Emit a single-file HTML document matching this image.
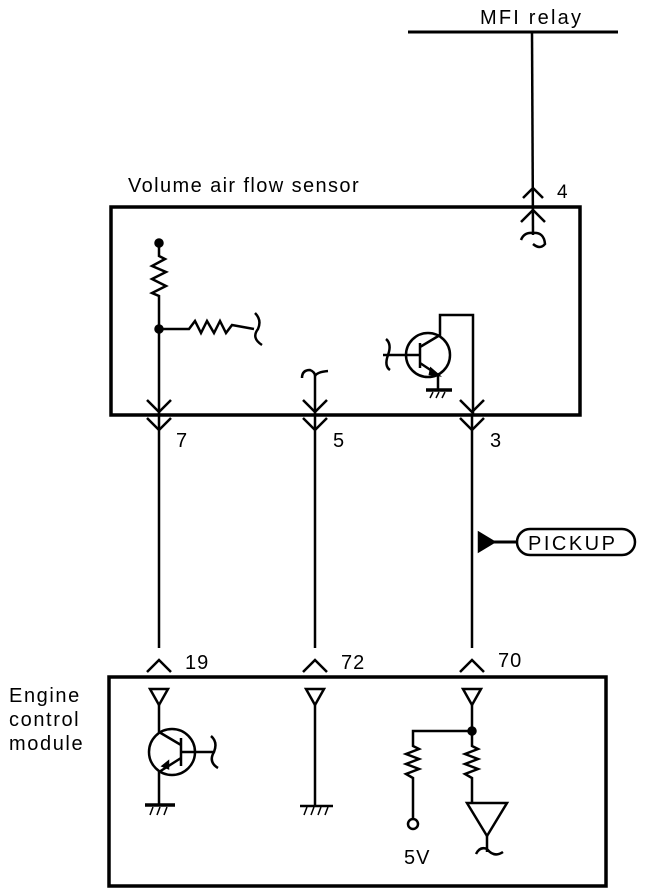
<!DOCTYPE html>
<html><head><style>body{margin:0;background:#fff}svg{display:block}text{font-family:"Liberation Sans",Arial,sans-serif;fill:#000}</style></head><body>
<svg width="656" height="894" viewBox="0 0 656 894" xmlns="http://www.w3.org/2000/svg" fill="none" stroke="#000" stroke-width="2.5">
<!-- MFI relay -->
<text x="480" y="24" font-size="20" letter-spacing="2.2" stroke="none">MFI relay</text>
<line x1="408" y1="32" x2="618" y2="32" stroke-width="3"/>
<line x1="532" y1="32" x2="533" y2="235"/>
<path d="M523 198 L533 188 L543 198 M521 222 L533 210 L545 222"/>
<path d="M521 240 Q524 232 533 233 Q544 232 545 244 Q540 250 533 244"/>
<text x="557" y="198" font-size="19" stroke="none">4</text>
<!-- VAF box -->
<text x="128" y="192" font-size="20" letter-spacing="1.4" stroke="none">Volume air flow sensor</text>
<rect x="111" y="207" width="469" height="208" stroke-width="3.5"/>
<circle cx="159" cy="243" r="3.5" fill="#000"/>
<path d="M159 243 L159 256 L165 259 L152 266 L166 272 L152 279 L166 286 L152 293 L159 296 L159 415"/>
<circle cx="159" cy="329" r="3.5" fill="#000"/>
<path d="M159 329 L189 329 L195 321 L201 333 L207 321 L214 333 L220 321 L226 333 L232 325 L254 329"/>
<path d="M255 313 Q262 320 258 329 Q251 338 262 345"/>
<path d="M147 400 L159 412 L171 400 M147 418 L159 430 L171 418"/>
<line x1="159" y1="415" x2="159" y2="648"/>
<text x="176" y="447" font-size="20" stroke="none">7</text>
<path d="M302 378 Q302 370 310 370 Q315 372 315 376 Q317 372 328 371"/>
<line x1="315" y1="376" x2="315" y2="648"/>
<path d="M303 400 L315 412 L327 400 M303 418 L315 430 L327 418"/>
<text x="333" y="447" font-size="20" stroke="none">5</text>
<!-- transistor in VAF -->
<circle cx="428" cy="355" r="22"/>
<path d="M383 355 L420 355 M420 343 L420 368 M420 347 L440 335 L440 315 L473 315 L473 415 M420 363 L438 375 L438 390"/>
<path d="M431 369 L438 375 L430 374 Z" fill="#000"/>
<path d="M386 339 Q392 344 388 355 Q384 366 390 370"/>
<line x1="426" y1="390" x2="452" y2="390" stroke-width="3.5"/>
<path d="M430 398 L433 392 M436 398 L439 392 M442 398 L445 392" stroke-width="1.5"/>
<path d="M460 400 L472 412 L484 400 M460 418 L472 430 L484 418"/>
<line x1="472" y1="415" x2="472" y2="648"/>
<text x="490" y="447" font-size="20" stroke="none">3</text>
<!-- pickup -->
<path d="M479 533 L494 542 L479 551 Z" fill="#000"/>
<line x1="480" y1="542" x2="517" y2="542" stroke-width="3"/>
<rect x="517" y="529" width="118" height="26" rx="13"/>
<text x="528" y="550" font-size="20" letter-spacing="2.5" stroke="none">PICKUP</text>
<!-- ECM pins -->
<path d="M147 672 L159 660 L171 672 M303 672 L315 660 L327 672 M460 672 L472 660 L484 672"/>
<text x="185" y="669" font-size="20" letter-spacing="1" stroke="none">19</text>
<text x="341" y="669" font-size="20" letter-spacing="1" stroke="none">72</text>
<text x="498" y="667" font-size="20" letter-spacing="1" stroke="none">70</text>
<text x="9" y="702" font-size="20" letter-spacing="1.6" stroke="none">Engine</text>
<text x="9" y="726" font-size="20" letter-spacing="1.6" stroke="none">control</text>
<text x="9" y="750" font-size="20" letter-spacing="1.6" stroke="none">module</text>
<rect x="109" y="677" width="497" height="209" stroke-width="3.5"/>
<path d="M150 689 L168 689 L159 705 Z M306 689 L324 689 L315 705 Z M463 689 L481 689 L472 705 Z"/>
<!-- transistor ECM -->
<circle cx="172" cy="752" r="23"/>
<path d="M159 705 L159 732 L181 745 M181 738 L181 766 M181 752 L213 752 M181 758 L159 772 L159 805"/>
<path d="M163 766 L168 768 L168 762 Z" fill="#000"/>
<path d="M211 736 Q218 742 214 752 Q208 762 218 768"/>
<line x1="145" y1="805" x2="175" y2="805" stroke-width="3.5"/>
<path d="M150 815 L153 807 M157 815 L160 807 M164 815 L167 807" stroke-width="1.5"/>
<line x1="315" y1="705" x2="315" y2="805"/>
<line x1="300" y1="806" x2="333" y2="806"/>
<path d="M304 815 L307 807 M311 815 L314 807 M318 815 L321 807 M325 815 L328 807" stroke-width="1.5"/>
<!-- 70 network -->
<path d="M472 705 L472 731 L413 731 L413 746 L419 749 L406 754 L419 759 L406 764 L419 769 L406 774 L413 778 L413 818"/>
<circle cx="472" cy="731" r="3.5" fill="#000"/>
<path d="M472 731 L472 746 L478 749 L465 754 L478 759 L465 764 L478 769 L465 774 L472 778 L472 803"/>
<circle cx="413" cy="824" r="5"/>
<text x="404" y="864" font-size="20" letter-spacing="1" stroke="none">5V</text>
<path d="M467 803 L507 803 L487 836 Z"/>
<path d="M487 836 L487 852 M476 854 Q480 846 487 849 Q494 858 503 852"/>
</svg>
</body></html>
